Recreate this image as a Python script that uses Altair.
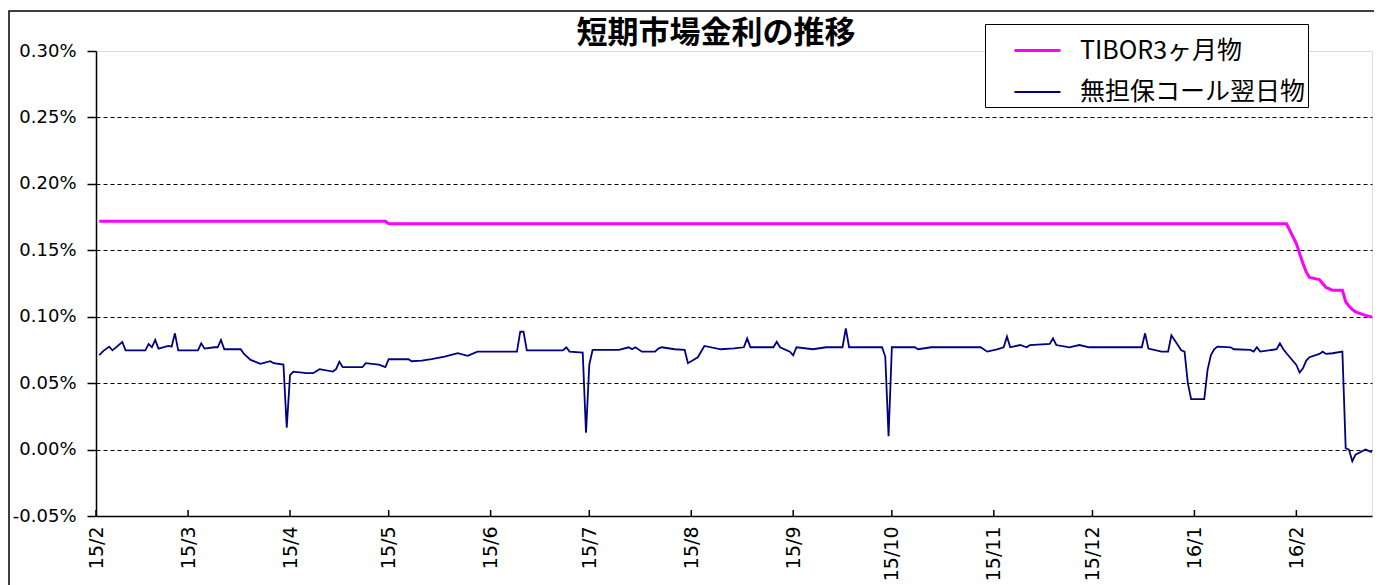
import altair as alt
import pandas as pd

# ---------------- data ----------------
series_names = ["TIBOR3ヶ月物", "無担保コール翌日物"]
series_colors = ["#FF00FF", "#000080"]
series_widths = [3, 1.8]

month_ticks = ["2015-02-01", "2015-03-01", "2015-04-01", "2015-05-01", "2015-06-01",
               "2015-07-01", "2015-08-01", "2015-09-01", "2015-10-01", "2015-11-01",
               "2015-12-01", "2016-01-01", "2016-02-01"]
x_start = "2015-02-01"
x_end = "2016-02-24"

y_ticks = [-0.05, 0.0, 0.05, 0.10, 0.15, 0.20, 0.25, 0.30]

tibor_dates = ["2015-02-02", "2015-04-30", "2015-05-01", "2016-01-29", "2016-02-01",
               "2016-02-02", "2016-02-03", "2016-02-04", "2016-02-05", "2016-02-08",
               "2016-02-09", "2016-02-10", "2016-02-12", "2016-02-15", "2016-02-16",
               "2016-02-17", "2016-02-18", "2016-02-19", "2016-02-22", "2016-02-24"]
tibor_values = [0.17182, 0.17182, 0.1700, 0.1700, 0.155,
                0.1475, 0.140, 0.1337, 0.1295, 0.128,
                0.125, 0.122, 0.120, 0.120, 0.1113,
                0.108, 0.1055, 0.1037, 0.101, 0.0997]

call_dates = [
    "2015-02-02", "2015-02-03", "2015-02-05", "2015-02-06", "2015-02-09", "2015-02-10",
    "2015-02-16", "2015-02-17", "2015-02-18", "2015-02-19", "2015-02-20", "2015-02-23",
    "2015-02-24", "2015-02-25", "2015-02-26", "2015-03-04", "2015-03-05", "2015-03-06",
    "2015-03-09", "2015-03-10", "2015-03-11", "2015-03-12", "2015-03-17", "2015-03-18",
    "2015-03-20", "2015-03-23", "2015-03-26", "2015-03-27", "2015-03-30", "2015-03-31",
    "2015-04-01", "2015-04-02", "2015-04-06", "2015-04-08", "2015-04-10", "2015-04-14",
    "2015-04-15", "2015-04-16", "2015-04-17", "2015-04-23", "2015-04-24", "2015-04-28",
    "2015-04-30", "2015-05-01", "2015-05-07", "2015-05-08", "2015-05-11", "2015-05-14",
    "2015-05-18", "2015-05-22", "2015-05-25", "2015-05-28", "2015-06-09", "2015-06-10",
    "2015-06-11", "2015-06-12", "2015-06-23", "2015-06-24", "2015-06-25", "2015-06-29",
    "2015-06-30", "2015-07-01", "2015-07-02", "2015-07-10", "2015-07-13", "2015-07-14",
    "2015-07-15", "2015-07-17", "2015-07-21", "2015-07-22", "2015-07-23", "2015-07-27",
    "2015-07-30", "2015-07-31", "2015-08-03", "2015-08-05", "2015-08-10", "2015-08-14",
    "2015-08-17", "2015-08-18", "2015-08-19", "2015-08-26", "2015-08-27", "2015-08-28",
    "2015-08-31", "2015-09-01", "2015-09-02", "2015-09-07", "2015-09-11", "2015-09-16",
    "2015-09-17", "2015-09-18", "2015-09-28", "2015-09-29", "2015-09-30", "2015-10-01",
    "2015-10-08", "2015-10-09", "2015-10-13", "2015-10-28", "2015-10-30", "2015-11-02",
    "2015-11-04", "2015-11-05", "2015-11-06", "2015-11-09", "2015-11-11", "2015-11-12",
    "2015-11-18", "2015-11-19", "2015-11-20", "2015-11-24", "2015-11-27", "2015-11-30",
    "2015-12-16", "2015-12-17", "2015-12-18", "2015-12-22", "2015-12-24", "2015-12-25",
    "2015-12-28", "2015-12-29", "2015-12-30", "2015-12-31", "2016-01-04", "2016-01-05",
    "2016-01-06", "2016-01-07", "2016-01-08", "2016-01-12", "2016-01-13", "2016-01-18",
    "2016-01-19", "2016-01-20", "2016-01-21", "2016-01-26", "2016-01-27", "2016-01-28",
    "2016-01-29", "2016-02-01", "2016-02-02", "2016-02-03", "2016-02-04", "2016-02-05",
    "2016-02-08", "2016-02-09", "2016-02-10", "2016-02-12", "2016-02-15", "2016-02-16",
    "2016-02-17", "2016-02-18", "2016-02-19", "2016-02-22", "2016-02-23", "2016-02-24"]
call_values = [
    0.071, 0.0737, 0.0775, 0.0747, 0.081, 0.0747,
    0.0747, 0.0795, 0.077, 0.0825, 0.076, 0.078,
    0.0775, 0.0875, 0.0747, 0.0747, 0.080, 0.076,
    0.077, 0.077, 0.0825, 0.0755, 0.0755, 0.072,
    0.0675, 0.0645, 0.0665, 0.065, 0.064, 0.0165,
    0.056, 0.0587, 0.0575, 0.0575, 0.0605, 0.0587,
    0.0605, 0.0662, 0.062, 0.062, 0.065, 0.064,
    0.062, 0.068, 0.068, 0.0665, 0.067, 0.068,
    0.070, 0.0725, 0.0705, 0.0737, 0.0737, 0.0887,
    0.0887, 0.0747, 0.0747, 0.077, 0.0737, 0.073,
    0.0127, 0.064, 0.075, 0.075, 0.077, 0.0755,
    0.077, 0.0737, 0.0737, 0.076, 0.077, 0.0755,
    0.075, 0.065, 0.0695, 0.078, 0.0755, 0.0762,
    0.077, 0.0837, 0.077, 0.077, 0.0812, 0.077,
    0.0737, 0.071, 0.077, 0.0755, 0.077, 0.077,
    0.0912, 0.077, 0.077, 0.070, 0.010, 0.077,
    0.077, 0.0755, 0.077, 0.077, 0.0737, 0.0755,
    0.077, 0.085, 0.077, 0.0787, 0.077, 0.0787,
    0.0795, 0.0837, 0.0787, 0.077, 0.0787, 0.077,
    0.077, 0.0875, 0.076, 0.0737, 0.0737, 0.086,
    0.0747, 0.0737, 0.050, 0.038, 0.038, 0.060,
    0.071, 0.0755, 0.0775, 0.077, 0.0755, 0.075,
    0.0737, 0.077, 0.0737, 0.0755, 0.080, 0.0757,
    0.0725, 0.0637, 0.058, 0.0612, 0.067, 0.0695,
    0.072, 0.0737, 0.072, 0.0725, 0.0737, 0.001,
    0.000, -0.0088, -0.0038, 0.000, -0.001, -0.002]

# ---------------- tables ----------------
def local(d):
    return d + "T00:00:00"

df = pd.concat([
    pd.DataFrame({"date": [local(d) for d in tibor_dates], "value": tibor_values,
                  "series": series_names[0]}),
    pd.DataFrame({"date": [local(d) for d in call_dates], "value": call_values,
                  "series": series_names[1]}),
], ignore_index=True)

ticks_df = pd.DataFrame({"date": [local(d) for d in month_ticks]})


def dt(s):
    y, m, d = (int(p) for p in s.split("-"))
    return alt.DateTime(year=y, month=m, date=d)


W, H = 1276, 465
LABEL_FONT = "DejaVu Sans"
JP_FONT = "Noto Sans CJK JP"

x_scale = alt.Scale(domain=[dt(x_start), dt(x_end)])
y_scale = alt.Scale(domain=[y_ticks[0], y_ticks[-1]], nice=False, zero=False)

x_axis = alt.Axis(
    values=[dt(d) for d in month_ticks], format="%y/%-m", labelAngle=270,
    labelFont=LABEL_FONT, labelFontSize=19, labelColor="black", labelPadding=10,
    ticks=False, grid=False, domainColor="black", domainWidth=1.5, title=None,
    labelOverlap=False,
)
y_axis = alt.Axis(
    values=y_ticks,
    labelExpr="replace(format(datum.value, '.2f'), '\u2212', '-') + '%'",
    labelFont=LABEL_FONT, labelFontSize=18, labelColor="black", labelPadding=11,
    tickSize=9, tickWidth=1.5, tickColor="black",
    domainColor="black", domainWidth=1.5, title=None,
    grid=True,
    gridColor={"condition": {"test": "datum.value > 0.29 || datum.value < -0.04",
                             "value": "transparent"}, "value": "black"},
    gridDash=[4, 3], gridWidth=1,
)

legend_kw = dict(
    title=None, orient="none", legendX=889, legendY=-27,
    fillColor="white", strokeColor="black", padding=2,
    symbolType="stroke", symbolSize=2116, symbolOffset=26,
    labelFont=JP_FONT, labelFontSize=25, labelColor="black", labelOffset=18,
    rowPadding=4, labelLimit=400,
)

lines = alt.Chart(df).mark_line(interpolate="linear", clip=True).encode(
    x=alt.X("date:T", scale=x_scale, axis=x_axis),
    y=alt.Y("value:Q", scale=y_scale, axis=y_axis),
    color=alt.Color("series:N", sort=series_names,
                    scale=alt.Scale(domain=series_names, range=series_colors),
                    legend=alt.Legend(**legend_kw)),
    strokeWidth=alt.StrokeWidth("series:N", sort=series_names,
                                scale=alt.Scale(domain=series_names, range=series_widths),
                                legend=alt.Legend(**legend_kw)),
    detail="series:N",
)

xticks = alt.Chart(ticks_df).mark_rule(color="black", strokeWidth=1.5).encode(
    x=alt.X("date:T", scale=x_scale),
    y=alt.value(H - 6), y2=alt.value(H),
)

frame = alt.Chart(pd.DataFrame({"k": [0]})).mark_rect(
    filled=False, stroke="black", strokeWidth=1.5
).encode(
    x=alt.value(-87), y=alt.value(-40), x2=alt.value(1400), y2=alt.value(700),
)

chart = alt.layer(frame, lines, xticks).properties(
    width=W, height=H,
    title=alt.TitleParams(
        "短期市場金利の推移", font=JP_FONT, fontSize=31, fontWeight="bold",
        color="black", anchor="middle", frame="group", dx=-18, dy=42, offset=2,
    ),
    autosize=alt.AutoSizeParams(type="none"),
    padding={"left": 88, "top": 43, "right": 2, "bottom": 69},
).configure_view(
    stroke="#808080", strokeWidth=1.5,
).configure(background="white")

chart.save("out.html", embed_options={"renderer": "svg", "actions": False})
